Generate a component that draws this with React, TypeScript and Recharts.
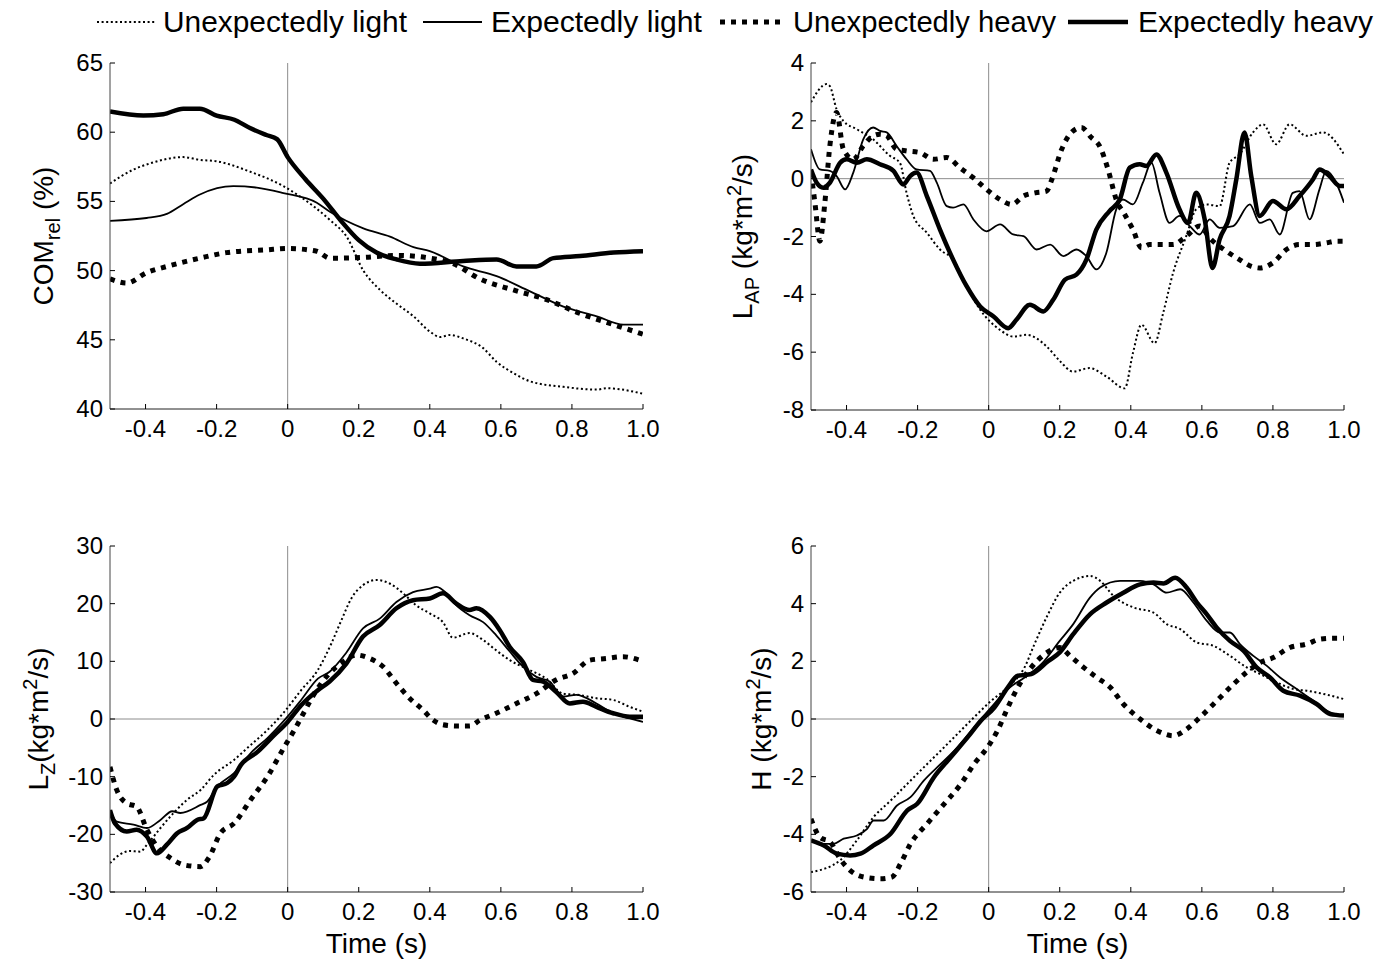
import React from 'react';
import { LineChart, Line, XAxis, YAxis, ReferenceLine } from 'recharts';

// ---------- tick labels ----------
const xTicks = [-0.4, -0.2, 0, 0.2, 0.4, 0.6, 0.8, 1.0];
const comTicks = [40, 45, 50, 55, 60, 65];
const lapTicks = [-8, -6, -4, -2, 0, 2, 4];
const lzTicks = [-30, -20, -10, 0, 10, 20, 30];
const hTicks = [-6, -4, -2, 0, 2, 4, 6];

const legendLabels = ['Unexpectedly light', 'Expectedly light', 'Unexpectedly heavy', 'Expectedly heavy'];

// ---------- Panel 1: COM_rel (%) ----------
const comUL: number[][] = [[-0.5,56.3],[-0.434,57.3],[-0.387,57.75],[-0.294,58.2],[-0.247,58.0],[-0.2,57.9],[-0.106,57.15],[-0.012,56.1],[0.035,55.35],[0.119,53.65],[0.166,52.45],[0.213,50.0],[0.26,48.6],[0.307,47.6],[0.354,46.7],[0.40,45.6],[0.429,45.2],[0.457,45.35],[0.494,45.1],[0.55,44.4],[0.588,43.4],[0.635,42.6],[0.682,42.0],[0.776,41.6],[0.87,41.4],[0.898,41.5],[1.0,41.1]];
const comEL: number[][] = [[-0.5,53.6],[-0.397,53.8],[-0.34,54.1],[-0.294,54.8],[-0.247,55.5],[-0.153,56.1],[-0.087,56.0],[-0.012,55.6],[0.082,54.9],[0.119,54.25],[0.213,53.05],[0.288,52.45],[0.354,51.7],[0.40,51.4],[0.494,50.3],[0.588,49.6],[0.682,48.5],[0.776,47.4],[0.87,46.7],[0.945,46.1],[1.0,46.1]];
const comUH: number[][] = [[-0.5,49.4],[-0.453,49.1],[-0.397,49.85],[-0.34,50.3],[-0.247,50.9],[-0.172,51.3],[-0.06,51.5],[0,51.6],[0.082,51.4],[0.119,50.9],[0.147,50.9],[0.213,50.95],[0.307,51.1],[0.40,50.9],[0.466,50.5],[0.541,49.4],[0.635,48.6],[0.729,47.9],[0.823,46.9],[0.917,46.1],[1.0,45.4]];
const comEH: number[][] = [[-0.5,61.5],[-0.406,61.2],[-0.35,61.3],[-0.294,61.7],[-0.247,61.7],[-0.2,61.2],[-0.15,60.9],[-0.106,60.3],[-0.06,59.8],[-0.03,59.5],[0,58.2],[0.05,56.6],[0.1,55.2],[0.15,53.6],[0.2,52.2],[0.25,51.3],[0.307,50.8],[0.372,50.5],[0.494,50.7],[0.588,50.8],[0.644,50.3],[0.70,50.3],[0.748,50.9],[0.823,51.05],[0.917,51.3],[1.0,51.4]];

// ---------- Panel 2: L_AP ----------
const lapUL: number[][] = [[-0.5,2.64],[-0.456,3.27],[-0.447,3.2],[-0.428,2.4],[-0.409,2.0],[-0.371,1.71],[-0.325,1.36],[-0.278,0.79],[-0.25,0.55],[-0.231,-0.49],[-0.212,-1.29],[-0.174,-1.87],[-0.137,-2.45],[-0.1,-2.8],[-0.062,-3.72],[-0.024,-4.53],[0.032,-5.23],[0.069,-5.46],[0.107,-5.4],[0.163,-5.8],[0.2,-6.3],[0.237,-6.67],[0.284,-6.55],[0.331,-6.84],[0.383,-7.25],[0.406,-6.03],[0.43,-5.05],[0.467,-5.69],[0.491,-4.65],[0.519,-3.26],[0.556,-1.99],[0.584,-1.06],[0.613,-0.89],[0.65,-0.95],[0.678,0.55],[0.706,0.84],[0.744,1.6],[0.772,1.88],[0.809,1.19],[0.847,1.88],[0.894,1.48],[0.941,1.6],[1.0,0.84]];
const lapEL: number[][] = [[-0.5,1.02],[-0.475,0.32],[-0.447,0.27],[-0.428,0.09],[-0.404,-0.37],[-0.381,0.21],[-0.353,1.36],[-0.325,1.77],[-0.306,1.65],[-0.287,1.6],[-0.259,1.13],[-0.231,0.67],[-0.203,0.32],[-0.165,0.27],[-0.146,-0.14],[-0.118,-0.95],[-0.1,-1.0],[-0.071,-0.89],[-0.043,-1.41],[-0.006,-1.82],[0.032,-1.58],[0.069,-1.93],[0.098,-1.99],[0.135,-2.45],[0.173,-2.28],[0.21,-2.68],[0.247,-2.45],[0.275,-2.68],[0.303,-3.14],[0.331,-2.57],[0.359,-1.06],[0.378,-0.72],[0.406,-0.89],[0.434,-0.14],[0.458,0.55],[0.481,-0.49],[0.509,-1.53],[0.537,-1.29],[0.566,-1.64],[0.594,-1.93],[0.622,-1.41],[0.65,-1.7],[0.688,-1.64],[0.735,-0.89],[0.763,-1.53],[0.791,-1.41],[0.819,-1.93],[0.856,-0.49],[0.875,-0.43],[0.903,-1.41],[0.931,-0.37],[0.95,0.27],[0.978,-0.14],[1.0,-0.83]];
const lapUH: number[][] = [[-0.5,0.21],[-0.489,-0.83],[-0.475,-2.16],[-0.461,-0.83],[-0.447,1.13],[-0.428,2.29],[-0.409,1.02],[-0.381,0.67],[-0.353,1.13],[-0.325,1.48],[-0.306,1.54],[-0.287,1.48],[-0.259,1.02],[-0.231,0.96],[-0.193,0.9],[-0.156,0.67],[-0.118,0.73],[-0.081,0.38],[-0.043,0.03],[-0.006,-0.37],[0.032,-0.72],[0.065,-0.89],[0.098,-0.6],[0.131,-0.49],[0.163,-0.43],[0.178,-0.02],[0.205,1.0],[0.233,1.6],[0.261,1.77],[0.289,1.42],[0.312,1.13],[0.336,0.32],[0.359,-0.72],[0.383,-1.24],[0.406,-1.76],[0.43,-2.39],[0.453,-2.28],[0.491,-2.28],[0.519,-2.28],[0.556,-1.99],[0.594,-1.64],[0.622,-2.05],[0.669,-2.51],[0.706,-2.8],[0.739,-3.03],[0.763,-3.09],[0.8,-2.91],[0.838,-2.45],[0.875,-2.28],[0.913,-2.28],[0.95,-2.22],[0.978,-2.16],[1.0,-2.16]];
const lapEH: number[][] = [[-0.5,0.32],[-0.484,-0.14],[-0.465,-0.31],[-0.447,-0.14],[-0.418,0.55],[-0.4,0.67],[-0.371,0.55],[-0.343,0.67],[-0.306,0.5],[-0.268,0.27],[-0.24,-0.2],[-0.221,0.09],[-0.203,0.21],[-0.174,-0.6],[-0.137,-1.76],[-0.1,-2.8],[-0.062,-3.72],[-0.024,-4.42],[0.013,-4.76],[0.055,-5.17],[0.078,-4.88],[0.116,-4.36],[0.154,-4.59],[0.182,-4.18],[0.215,-3.49],[0.247,-3.32],[0.275,-2.8],[0.303,-1.76],[0.34,-1.12],[0.369,-0.72],[0.397,0.38],[0.425,0.5],[0.444,0.44],[0.472,0.84],[0.5,0.21],[0.537,-1.06],[0.561,-1.53],[0.584,-0.49],[0.608,-1.41],[0.63,-3.09],[0.65,-2.1],[0.678,-1.29],[0.697,-0.02],[0.72,1.6],[0.739,0.09],[0.763,-1.29],[0.8,-0.77],[0.838,-1.06],[0.875,-0.6],[0.913,-0.02],[0.931,0.32],[0.959,0.09],[0.988,-0.25],[1.0,-0.25]];

// ---------- Panel 3: L_Z ----------
const lzUL: number[][] = [[-0.5,-25.0],[-0.472,-23.5],[-0.443,-22.9],[-0.415,-23.0],[-0.396,-21.8],[-0.358,-18.9],[-0.321,-16.3],[-0.283,-14.0],[-0.245,-12.3],[-0.208,-9.7],[-0.151,-7.1],[-0.104,-4.5],[-0.057,-1.9],[-0.009,1.27],[0.038,5.0],[0.085,8.5],[0.123,13.1],[0.151,17.1],[0.18,21.0],[0.212,23.2],[0.25,24.1],[0.287,23.5],[0.325,21.8],[0.362,19.7],[0.4,18.3],[0.437,16.8],[0.465,14.1],[0.512,14.9],[0.55,13.7],[0.587,11.9],[0.625,10.2],[0.681,8.5],[0.728,7.0],[0.775,4.4],[0.822,4.15],[0.869,3.6],[0.916,3.3],[0.963,2.1],[1.0,1.27]];
const lzEL: number[][] = [[-0.5,-15.8],[-0.481,-17.8],[-0.434,-18.3],[-0.396,-18.9],[-0.358,-17.5],[-0.325,-16.0],[-0.302,-16.3],[-0.245,-14.9],[-0.226,-14.3],[-0.198,-11.7],[-0.151,-9.4],[-0.104,-5.9],[-0.057,-3.3],[-0.009,-0.2],[0.038,3.3],[0.085,7.0],[0.118,8.2],[0.165,11.5],[0.212,15.7],[0.259,17.4],[0.306,20.3],[0.353,22.0],[0.4,22.6],[0.419,22.9],[0.447,21.8],[0.475,19.7],[0.512,18.0],[0.55,16.8],[0.587,14.5],[0.625,11.7],[0.662,9.1],[0.7,7.3],[0.737,6.5],[0.775,3.9],[0.812,4.2],[0.869,2.7],[0.916,1.0],[0.963,0.1],[1.0,-0.5]];
const lzUH: number[][] = [[-0.5,-8.3],[-0.481,-12.3],[-0.453,-14.6],[-0.425,-15.2],[-0.396,-19.2],[-0.368,-22.1],[-0.33,-24.1],[-0.292,-25.3],[-0.245,-25.6],[-0.222,-24.1],[-0.189,-19.8],[-0.151,-18.1],[-0.104,-14.0],[-0.057,-10.0],[-0.009,-4.8],[0.019,-1.9],[0.047,1.27],[0.075,4.4],[0.113,7.6],[0.156,9.9],[0.193,11.1],[0.231,10.5],[0.268,9.1],[0.306,6.2],[0.343,3.6],[0.381,1.56],[0.409,-0.17],[0.437,-1.0],[0.475,-1.2],[0.512,-1.2],[0.541,-0.2],[0.587,1.0],[0.644,2.7],[0.7,4.4],[0.756,6.8],[0.803,7.9],[0.85,10.2],[0.897,10.5],[0.944,10.8],[0.991,10.2]];
const lzEH: number[][] = [[-0.5,-15.8],[-0.486,-18.1],[-0.453,-19.5],[-0.425,-19.2],[-0.396,-20.4],[-0.368,-23.3],[-0.34,-21.8],[-0.311,-19.8],[-0.283,-18.9],[-0.255,-17.5],[-0.236,-17.2],[-0.198,-11.7],[-0.17,-11.1],[-0.151,-10.0],[-0.132,-8.0],[-0.085,-5.7],[-0.038,-2.8],[0,-0.5],[0.038,2.4],[0.085,5.0],[0.118,6.5],[0.165,9.6],[0.212,14.3],[0.259,16.3],[0.306,19.2],[0.353,20.6],[0.4,20.9],[0.437,21.8],[0.475,20.0],[0.512,18.9],[0.531,19.2],[0.569,17.7],[0.597,15.4],[0.625,12.5],[0.662,9.9],[0.69,6.8],[0.719,6.5],[0.756,4.7],[0.794,2.7],[0.831,3.0],[0.869,2.1],[0.916,1.0],[0.963,0.4],[1.0,0.4]];

// ---------- Panel 4: H ----------
const hUL: number[][] = [[-0.5,-5.31],[-0.418,-4.9],[-0.371,-4.21],[-0.324,-3.4],[-0.276,-2.83],[-0.229,-2.25],[-0.182,-1.67],[-0.135,-1.1],[-0.088,-0.52],[-0.041,0.06],[0.007,0.63],[0.054,1.1],[0.101,1.79],[0.129,2.6],[0.167,3.63],[0.2,4.38],[0.238,4.79],[0.285,4.96],[0.314,4.79],[0.351,4.27],[0.407,3.87],[0.464,3.69],[0.501,3.29],[0.539,3.12],[0.586,2.65],[0.632,2.54],[0.679,2.19],[0.726,1.79],[0.764,1.56],[0.801,1.33],[0.858,1.04],[0.895,0.98],[0.942,0.87],[1.0,0.69]];
const hEL: number[][] = [[-0.5,-4.21],[-0.465,-4.33],[-0.437,-4.33],[-0.408,-4.15],[-0.371,-4.04],[-0.342,-3.81],[-0.324,-3.52],[-0.295,-3.52],[-0.258,-3.0],[-0.22,-2.71],[-0.182,-2.13],[-0.135,-1.56],[-0.088,-0.98],[-0.041,-0.29],[0.007,0.4],[0.054,1.04],[0.101,1.44],[0.148,1.9],[0.2,2.71],[0.238,3.29],[0.285,4.21],[0.314,4.56],[0.37,4.79],[0.426,4.79],[0.464,4.67],[0.501,4.38],[0.539,4.5],[0.576,4.04],[0.614,3.4],[0.651,3.0],[0.679,3.0],[0.707,2.6],[0.745,2.19],[0.782,1.85],[0.82,1.44],[0.867,1.04],[0.914,0.63],[0.961,0.23],[1.0,0.12]];
const hUH: number[][] = [[-0.5,-3.46],[-0.475,-4.1],[-0.446,-4.27],[-0.418,-4.85],[-0.39,-5.25],[-0.352,-5.48],[-0.305,-5.54],[-0.272,-5.48],[-0.248,-5.02],[-0.22,-4.33],[-0.173,-3.63],[-0.125,-2.94],[-0.078,-2.25],[-0.041,-1.56],[-0.003,-0.98],[0.025,-0.4],[0.054,0.4],[0.082,1.1],[0.12,1.79],[0.158,2.25],[0.2,2.48],[0.229,2.19],[0.267,1.79],[0.304,1.44],[0.342,1.1],[0.379,0.52],[0.426,0.0],[0.473,-0.4],[0.52,-0.58],[0.557,-0.35],[0.595,0.06],[0.642,0.63],[0.689,1.21],[0.726,1.62],[0.764,1.96],[0.801,2.13],[0.848,2.48],[0.895,2.6],[0.933,2.77],[0.97,2.8],[1.0,2.8]];
const hEH: number[][] = [[-0.5,-4.21],[-0.465,-4.38],[-0.427,-4.67],[-0.39,-4.73],[-0.361,-4.67],[-0.324,-4.38],[-0.276,-3.98],[-0.229,-3.17],[-0.201,-2.94],[-0.154,-2.02],[-0.107,-1.33],[-0.059,-0.63],[-0.022,-0.06],[0.016,0.4],[0.054,1.1],[0.082,1.5],[0.12,1.56],[0.167,2.0],[0.2,2.31],[0.238,2.94],[0.285,3.63],[0.332,4.04],[0.379,4.38],[0.426,4.67],[0.464,4.73],[0.492,4.7],[0.525,4.9],[0.557,4.56],[0.586,4.04],[0.614,3.63],[0.642,3.17],[0.679,2.71],[0.717,2.37],[0.754,1.79],[0.792,1.44],[0.829,0.98],[0.876,0.81],[0.923,0.52],[0.961,0.17],[1.0,0.12]];

// ---------- styles ----------
const FONT = '"Liberation Sans", Arial, Helvetica, sans-serif';
const STYLES = [
  { width: 2, dash: '2 2.6' },     // Unexpectedly light
  { width: 1.8, dash: undefined }, // Expectedly light
  { width: 5, dash: '5 6' },       // Unexpectedly heavy
  { width: 4.5, dash: undefined }, // Expectedly heavy
];

const toRows = (pairs: number[][]) => pairs.map(([t, v]) => ({ t, v }));

const fmtX = (v: number) => (v === 0 ? '0' : v === 1 ? '1.0' : v.toFixed(1));

const XTick = (props: any) => {
  const { x, y, payload } = props;
  return (
    <g>
      <line x1={x} y1={y} x2={x} y2={y - 5} stroke="#000" strokeWidth={1} />
      <text x={x} y={y + 28} textAnchor="middle" fontSize={24} fontFamily={FONT} fill="#000">
        {fmtX(payload.value)}
      </text>
    </g>
  );
};

const YTick = (props: any) => {
  const { x, y, payload } = props;
  return (
    <g>
      <line x1={x} y1={y} x2={x + 5} y2={y} stroke="#000" strokeWidth={1} />
      <text x={x - 7} y={y + 8} textAnchor="end" fontSize={24} fontFamily={FONT} fill="#000">
        {String(payload.value)}
      </text>
    </g>
  );
};

const YLabel = (props: any) => {
  const { lx, ly, kind } = props;
  const common = {
    x: lx,
    y: ly,
    textAnchor: 'middle' as const,
    fontSize: 28,
    fontFamily: FONT,
    fill: '#000',
    transform: `rotate(-90, ${lx}, ${ly})`,
  };
  if (kind === 'com') {
    return (
      <text {...common}>
        COM<tspan fontSize={20} dy={7}>rel</tspan><tspan dy={-7}> (%)</tspan>
      </text>
    );
  }
  if (kind === 'lap') {
    return (
      <text {...common}>
        L<tspan fontSize={20} dy={7}>AP</tspan><tspan dy={-7}> (kg*m</tspan><tspan fontSize={20} dy={-11}>2</tspan><tspan dy={11}>/s)</tspan>
      </text>
    );
  }
  if (kind === 'lz') {
    return (
      <text {...common}>
        L<tspan fontSize={20} dy={7}>Z</tspan><tspan dy={-7}>(kg*m</tspan><tspan fontSize={20} dy={-11}>2</tspan><tspan dy={11}>/s)</tspan>
      </text>
    );
  }
  return (
    <text {...common}>
      H (kg*m<tspan fontSize={20} dy={-11}>2</tspan><tspan dy={11}>/s)</tspan>
    </text>
  );
};

const XLabel = (props: any) => {
  const { lx, ly } = props;
  return (
    <text x={lx} y={ly} textAnchor="middle" fontSize={28} fontFamily={FONT} fill="#000">
      Time (s)
    </text>
  );
};

const PLOT_W = 533;
const AXIS_W = 110;
const M_TOP = 20;
const M_RIGHT = 30;
const X_H = 70;

type PanelProps = {
  left: number;
  top: number;
  plotH: number;
  yDomain: number[];
  yTicks: number[];
  series: number[][][];
  kind: string;
  labelX: number;
  showTime: boolean;
  zeroH: boolean;
};

const Panel = ({ left, top, plotH, yDomain, yTicks, series, kind, labelX, showTime, zeroH }: PanelProps) => {
  const W = AXIS_W + PLOT_W + M_RIGHT;
  const H = M_TOP + plotH + X_H;
  return (
    <div style={{ position: 'absolute', left: left - AXIS_W, top: top - M_TOP }}>
      <LineChart width={W} height={H} margin={{ top: M_TOP, right: M_RIGHT, bottom: 0, left: 0 }}>
        <XAxis
          dataKey="t"
          type="number"
          domain={[-0.5, 1]}
          ticks={xTicks}
          allowDataOverflow
          interval={0}
          height={X_H}
          tickSize={0}
          tickMargin={0}
          tickLine={false}
          axisLine={{ stroke: '#222', strokeWidth: 1 }}
          tick={(p: any) => <XTick {...p} />}
          label={showTime ? <XLabel lx={AXIS_W + PLOT_W / 2} ly={M_TOP + plotH + 61} /> : undefined}
        />
        <YAxis
          type="number"
          domain={yDomain}
          ticks={yTicks}
          allowDataOverflow
          interval={0}
          width={AXIS_W}
          tickSize={0}
          tickMargin={0}
          tickLine={false}
          axisLine={{ stroke: '#444', strokeWidth: 1 }}
          tick={(p: any) => <YTick {...p} />}
          label={<YLabel lx={labelX} ly={M_TOP + plotH / 2} kind={kind} />}
        />
        <ReferenceLine x={0} stroke="#8c8c8c" strokeWidth={1} />
        {zeroH && <ReferenceLine y={0} stroke="#8c8c8c" strokeWidth={1} />}
        {series.map((s, i) => (
          <Line
            key={i}
            data={toRows(s)}
            dataKey="v"
            type="monotone"
            stroke="#000"
            strokeWidth={STYLES[i].width}
            strokeDasharray={STYLES[i].dash}
            dot={false}
            activeDot={false}
            isAnimationActive={false}
          />
        ))}
      </LineChart>
    </div>
  );
};

const Legend = () => {
  const items = [
    { x1: 97, x2: 155, tx: 163, w: 244 },
    { x1: 423, x2: 482, tx: 491, w: 211 },
    { x1: 720, x2: 782, tx: 793, w: 263 },
    { x1: 1068, x2: 1128, tx: 1138, w: 235 },
  ];
  return (
    <svg width={1393} height={46} style={{ position: 'absolute', left: 0, top: 0 }}>
      {items.map((it, i) => (
        <g key={i}>
          <line x1={it.x1} x2={it.x2} y1={22} y2={22} stroke="#000" strokeWidth={STYLES[i].width} strokeDasharray={STYLES[i].dash} />
          <text x={it.tx} y={32} fontSize={29} fontFamily={FONT} fill="#000" textLength={it.w} lengthAdjust="spacingAndGlyphs">{legendLabels[i]}</text>
        </g>
      ))}
    </svg>
  );
};

export default function App() {
  return (
    <div style={{ position: 'absolute', left: 0, top: 0, width: 1393, height: 962, background: '#fff', overflow: 'hidden' }}>
      <Legend />
      <Panel left={110} top={63} plotH={346} yDomain={[40, 65]} yTicks={comTicks} series={[comUL, comEL, comUH, comEH]} kind="com" labelX={53} showTime={false} zeroH={false} />
      <Panel left={811} top={63} plotH={347} yDomain={[-8, 4]} yTicks={lapTicks} series={[lapUL, lapEL, lapUH, lapEH]} kind="lap" labelX={51} showTime={false} zeroH={true} />
      <Panel left={110} top={546} plotH={346} yDomain={[-30, 30]} yTicks={lzTicks} series={[lzUL, lzEL, lzUH, lzEH]} kind="lz" labelX={48} showTime={true} zeroH={true} />
      <Panel left={811} top={546} plotH={346} yDomain={[-6, 6]} yTicks={hTicks} series={[hUL, hEL, hUH, hEH]} kind="h" labelX={70} showTime={true} zeroH={true} />
    </div>
  );
}
